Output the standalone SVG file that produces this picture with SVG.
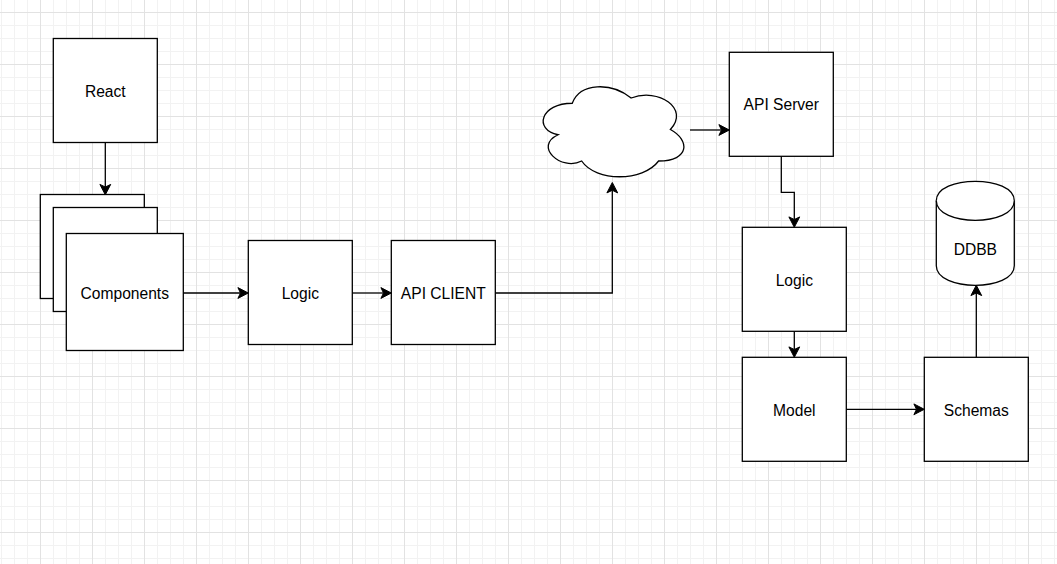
<svg xmlns="http://www.w3.org/2000/svg" width="1057" height="564" viewBox="0 0 1057 564">
  <defs>
    <pattern id="grid" x="40" y="12" width="52" height="52" patternUnits="userSpaceOnUse">
      <path d="M13.5,0 V52 M26.5,0 V52 M39.5,0 V52 M0,13.5 H52 M0,26.5 H52 M0,39.5 H52" stroke="#f2f2f2" stroke-width="1" fill="none"/>
      <path d="M0.5,0 V52 M0,0.5 H52" stroke="#e2e2e2" stroke-width="1" fill="none"/>
    </pattern>
    <marker id="arrow" markerUnits="userSpaceOnUse" markerWidth="14" markerHeight="14" viewBox="-12 -7 14 14" refX="-7.8" refY="0" orient="auto" overflow="visible">
      <path d="M0,0 L-10.4,-5.4 L-7.8,0 L-10.4,5.4 Z" fill="#000" stroke="#000" stroke-width="1" stroke-linejoin="miter"/>
    </marker>
  </defs>
  <style>
    .shape { fill: #fff; stroke: #000; stroke-width: 1.3; }
    .label { font-family: "Liberation Sans", Arial, sans-serif; font-size: 15.6px; fill: #000; text-anchor: middle; dominant-baseline: central; }
    .edge { fill: none; stroke: #000; stroke-width: 1.3; marker-end: url(#arrow); }
  </style>
  <rect x="0" y="0" width="1057" height="564" fill="#fff"/>
  <rect x="0" y="0" width="1057" height="564" fill="url(#grid)"/>

  <g id="react">
    <rect class="shape" x="53.3" y="38.5" width="104" height="104"/>
    <text class="label" x="105.3" y="91">React</text>
  </g>
  <g id="components">
    <rect class="shape" x="40.3" y="194.5" width="104" height="104"/>
    <rect class="shape" x="53.3" y="207.5" width="104" height="104"/>
    <rect class="shape" x="66.3" y="233.5" width="117" height="117"/>
    <text class="label" x="124.8" y="293">Components</text>
  </g>
  <g id="logic-client">
    <rect class="shape" x="248.3" y="240.5" width="104" height="104"/>
    <text class="label" x="300.3" y="293">Logic</text>
  </g>
  <g id="api-client">
    <rect class="shape" x="391.3" y="240.5" width="104" height="104"/>
    <text class="label" x="443.3" y="293">API CLIENT</text>
  </g>
  <g id="cloud">
    <path class="shape" d="M572.25,103.25 C540.85,103.25 533,129.5 558.12,134.75 C533,146.3 561.26,171.5 581.67,161 C595.8,182 642.9,182 658.6,161 C690,161 690,140 670.375,129.5 C690,108.5 658.6,87.5 631.125,98 C611.5,82.25 580.1,82.25 572.25,103.25 Z"/>
  </g>
  <g id="api-server">
    <rect class="shape" x="729.3" y="52.3" width="104" height="104"/>
    <text class="label" x="781.3" y="104.5">API Server</text>
  </g>
  <g id="logic-server">
    <rect class="shape" x="742.3" y="227.3" width="104" height="104"/>
    <text class="label" x="794.3" y="280">Logic</text>
  </g>
  <g id="model">
    <rect class="shape" x="742.3" y="357.3" width="104" height="104"/>
    <text class="label" x="794.3" y="410">Model</text>
  </g>
  <g id="schemas">
    <rect class="shape" x="924.3" y="357.3" width="104" height="104"/>
    <text class="label" x="976.3" y="410">Schemas</text>
  </g>
  <g id="ddbb">
    <path class="shape" d="M936.3,200.8 C936.3,174.8 1014.3,174.8 1014.3,200.8 L1014.3,265.8 C1014.3,291.8 936.3,291.8 936.3,265.8 Z"/>
    <path class="shape" fill="none" d="M936.3,200.8 C936.3,226.8 1014.3,226.8 1014.3,200.8"/>
    <text class="label" x="975.3" y="249">DDBB</text>
  </g>

  <g id="connectors">
    <path class="edge" d="M105.3,142.5 V187"/>
    <path class="edge" d="M183.3,293 H240.5"/>
    <path class="edge" d="M352.3,293 H383.5"/>
    <path class="edge" d="M495.3,293 H612.3 V190.3"/>
    <path class="edge" d="M690,130 H721.5"/>
    <path class="edge" d="M781.3,156.3 V192.3 H794.3 V219.5"/>
    <path class="edge" d="M794.3,331.3 V349.5"/>
    <path class="edge" d="M846.3,409.3 H916.5"/>
    <path class="edge" d="M976.3,357.3 V293"/>
  </g>
</svg>
